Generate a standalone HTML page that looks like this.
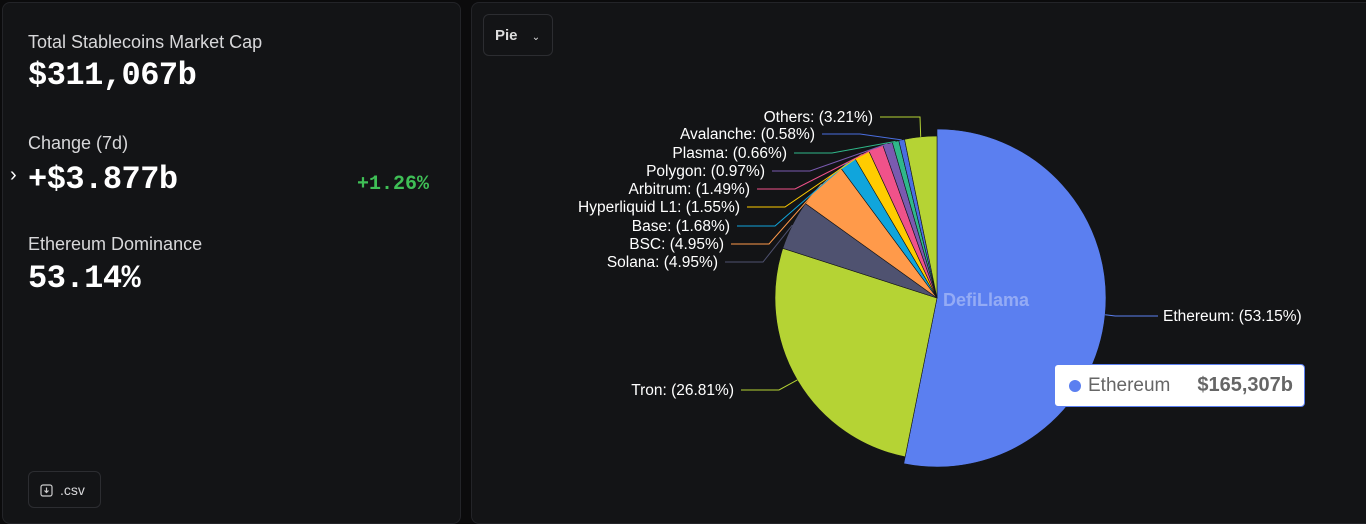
<!DOCTYPE html>
<html><head><meta charset="utf-8">
<style>
body{margin:0;width:1366px;height:514px;background:#0b0b0c;font-family:"Liberation Sans",sans-serif;overflow:hidden;position:relative;color:#fff}
.card{position:absolute;background:#131416;border:1px solid #232428;border-radius:8px}
.lbl{position:absolute;left:25px;font-size:18px;color:#d8d8da}
.big{position:absolute;left:25px;font-family:"Liberation Mono",monospace;font-weight:bold;font-size:32px;color:#fff;letter-spacing:-0.5px}
</style></head><body>
<div class="card" style="left:2px;top:2px;width:457px;height:520px">
  <div class="lbl" style="top:29px">Total Stablecoins Market Cap</div>
  <div class="big" style="top:54px">$311,067b</div>
  <div class="lbl" style="top:130px">Change (7d)</div>
  <div style="position:absolute;left:7px;top:161px;font-size:20px;color:#fff">&#8250;</div>
  <div class="big" style="top:158px">+$3.877b</div>
  <div style="position:absolute;left:354px;top:170px;font-family:'Liberation Mono',monospace;font-weight:bold;font-size:20px;color:#3fbf56">+1.26%</div>
  <div class="lbl" style="top:231px">Ethereum Dominance</div>
  <div class="big" style="top:257px">53.14%</div>
  <div style="position:absolute;left:25px;top:468px;width:73px;height:37px;border:1px solid #2c2d31;border-radius:6px;font-size:14px;color:#d8d8da;line-height:37px;box-sizing:border-box;padding-left:31px">.csv
    <svg style="position:absolute;left:11px;top:12px" width="13" height="13" viewBox="0 0 13 13"><rect x="1" y="1" width="11" height="11" rx="2" fill="none" stroke="#ccc" stroke-width="1.2"/><path d="M6.5 3.5v5M4.5 6.5l2 2 2-2" fill="none" stroke="#ccc" stroke-width="1.2"/></svg>
  </div>
</div>
<div class="card" style="left:471px;top:2px;width:900px;height:520px">
  <div style="position:absolute;left:11px;top:11px;width:70px;height:42px;border:1px solid #2c2d31;border-radius:6px;font-size:15px;font-weight:bold;color:#ddd;line-height:42px;box-sizing:border-box;padding-left:11px">Pie <span style="font-size:10px;margin-left:10px;font-weight:normal">&#8964;</span></div>
</div>
<svg id="pie" width="1366" height="514" style="position:absolute;left:0;top:0"></svg>
<div style="position:absolute;left:1054px;top:364px;width:251px;height:43px;background:#fff;border:1px solid #5b7ff0;border-radius:4px;box-sizing:border-box;font-size:19px;line-height:41px;color:#666">
  <span style="position:absolute;left:14px;top:15px;width:12px;height:12px;border-radius:50%;background:#5b7ff0"></span>
  <span style="position:absolute;left:33px">Ethereum</span>
  <span style="position:absolute;right:11px;font-weight:bold;font-size:20px">$165,307b</span>
</div>
<script>
const categories=["Ethereum","Tron","Solana","BSC","Base","Hyperliquid L1","Arbitrum","Polygon","Plasma","Avalanche","Others"];
const shares=[53.15,26.81,4.95,4.95,1.68,1.55,1.49,0.97,0.66,0.58,3.21];
const colors=["#5b7ff0","#b5d334","#4f5270","#ff9a4a","#10a5dc","#ffcc00","#f0528a","#7a5ab0","#2fb88a","#4a6ee0","#b5d334"];
const labelY=[316,390,262,244,226,207,189,171,153,134,117];
const labelX=[1163,734,718,724,730,740,750,765,787,815,873];
const svg=document.getElementById('pie');const NS='http://www.w3.org/2000/svg';
const cx=937,cy=298,R=162;
const total=shares.reduce((a,b)=>a+b,0);
function pt(a,r){return [cx+r*Math.sin(a),cy-r*Math.cos(a)];}
let a0=0;
shares.forEach((v,i)=>{
  const a1=a0+v/total*2*Math.PI;
  const r=i===0?169:R;
  const p0=pt(a0,r),p1=pt(a1,r);
  const large=(a1-a0)>Math.PI?1:0;
  const path=document.createElementNS(NS,'path');
  path.setAttribute('d',`M${cx},${cy}L${p0[0]},${p0[1]}A${r},${r} 0 ${large} 1 ${p1[0]},${p1[1]}Z`);
  path.setAttribute('fill',colors[i]);path.setAttribute('stroke','#131416');path.setAttribute('stroke-width','0.6');
  
  
  svg.appendChild(path);
  const am=(a0+a1)/2;const e=pt(am,r);
  const right=Math.sin(am)>0;
  const ly=labelY[i];const lx=labelX[i];
  const hx=right?lx-5:lx+7;
  const line=document.createElementNS(NS,'polyline');
  let pts;
  if(i===10) pts=`${e[0]},${e[1]} 920,${ly} ${hx},${ly}`;
  else if(right) pts=`${e[0]},${e[1]} ${e[0]+10},${ly} ${hx},${ly}`;
  else pts=`${e[0]},${e[1]} ${hx+38},${ly} ${hx},${ly}`;
  line.setAttribute('points',pts);line.setAttribute('fill','none');line.setAttribute('stroke',colors[i]);line.setAttribute('stroke-width','1');
  
  
  svg.appendChild(line);
  const t=document.createElementNS(NS,'text');
  t.setAttribute('x',lx);t.setAttribute('y',ly+5);t.setAttribute('fill','#fff');t.setAttribute('font-size','15.5');
  t.setAttribute('font-family','Liberation Sans, sans-serif');
  t.setAttribute('text-anchor',right?'start':'end');
  t.textContent=categories[i]+': ('+shares[i].toFixed(2)+'%)';
  
  
  svg.appendChild(t);
  a0=a1;
});
const wm=document.createElementNS(NS,'text');
wm.setAttribute('x',943);wm.setAttribute('y',306);wm.setAttribute('fill','rgba(255,255,255,0.35)');wm.setAttribute('font-size','18');wm.setAttribute('font-weight','bold');wm.setAttribute('font-family','Liberation Sans, sans-serif');
wm.textContent='DefiLlama';


svg.appendChild(wm);
</script>
</body></html>
